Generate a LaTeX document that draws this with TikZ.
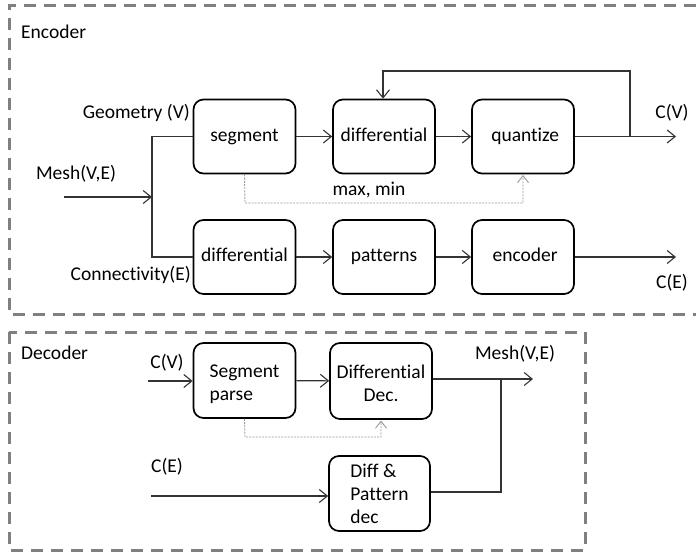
\documentclass[tikz,border=0pt]{standalone}
\usepackage{fontspec}
\setmainfont{Carlito}[Ligatures=CommonOff]
\usetikzlibrary{arrows.meta}
\newcommand{\lowstack}[2]{\raisebox{-4pt}[\height][\depth]{\begin{tabular}{@{}#1@{}}#2\end{tabular}}}
\begin{document}
\begin{tikzpicture}[x=1pt,y=-1pt,
  font=\fontsize{19.5}{23}\selectfont,
  block/.style={draw=black,line width=1.7pt,rounded corners=10pt,fill=white,
    minimum width=102pt,minimum height=74pt,inner sep=2pt,align=center},
  oneline/.style={text height=13pt,text depth=4pt},
  wire/.style={draw=black!80,line width=1.1pt},
  arr/.style={wire,-{Straight Barb[length=8pt,width=13pt,line width=1.1pt]}},
  hint/.style={draw=black!40,line width=0.9pt,dash pattern=on 2pt off 1.2pt},
  hintarr/.style={hint,-{Straight Barb[length=7pt,width=11pt,line width=0.9pt,sep=1pt]}},
  frame/.style={draw=black!50,line width=3pt,dash pattern=on 12pt off 8pt},
  lbl/.style={inner sep=0pt}]
\useasboundingbox (0,0) rectangle (696,552);

% dashed frames
\draw[frame] (696,5) -- (9,5) -- (9,314) -- (696,314);
\draw[frame] (9,332) rectangle (585,550);
\node[lbl,anchor=west] (enclbl) at (21,32) {Encoder};
\node[lbl,anchor=west] (declbl) at (21,353) {Decoder};

% encoder blocks
\node[block,oneline] (segment)  at (244.5,136.5) {segment};
\node[block,oneline] (diffa)    at (384,136.5)   {differential};
\node[block,oneline] (quantize) at (523,136.5)   {\ quantize};
\node[block,oneline] (diffb)    at (244.5,257)   {differential};
\node[block,oneline] (patterns) at (384,257)     {patterns};
\node[block,oneline] (encoder)  at (523,257)     {\ encoder};

% encoder wiring
\coordinate (meshin) at (64,197);
\coordinate (split) at (152,197);
\draw[arr] (meshin) -- (split);
\draw[wire] (segment.west) -| (split) |- (diffb.west);
\draw[arr] (segment) -- (diffa);
\draw[arr] (diffa) -- (quantize);
\draw[arr] (diffb) -- (patterns);
\draw[arr] (patterns) -- (encoder);
\coordinate (cvout) at (676,136.5);
\coordinate (ceout) at (676,257);
\coordinate (fb) at (630,136.5);
\coordinate (fbtop) at (383,71);
\draw[arr] (quantize) -- (cvout);
\draw[arr] (encoder) -- (ceout);
\draw[arr] (fb) |- (fbtop) -- (fbtop |- diffa.north);
\coordinate (mmdown) at (245,203);
\draw[hintarr] (segment.south) -- (mmdown) -| (523,174);

\node[lbl,anchor=east] (geo) at (190,113) {Geometry (V)};
\node[lbl,anchor=east] (conn) at (191,275) {Connectivity(E)};
\node[lbl] (meshlbl) at (76,174) {Mesh(V,E)};
\node[lbl] (cvlbl) at (672,113) {C(V)};
\node[lbl] (celbl) at (672,283) {C(E)};
\node[lbl] (mm) at (369,190) {max, min};

% decoder blocks
\node[block,minimum height=75pt] (segparse) at (244.5,380.5) {\lowstack{l}{Segment\\parse}};
\node[block,minimum height=76pt] (diffdec) at (381,381) {\lowstack{c}{Differential\\Dec.}};
\node[block,align=left,minimum width=101pt,minimum height=75pt] (dpdec) at (379.5,493.5) {Diff \&\\Pattern\\dec};

% decoder wiring
\coordinate (cvin) at (148,381);
\coordinate (cein) at (151,496);
\draw[arr] (cvin) -- (segparse.west |- cvin);
\draw[arr] (segparse) -- (diffdec);
\draw[arr] (cein) -- (dpdec.west |- cein);
\coordinate (meshout) at (533,379);
\coordinate (join) at (501,379);
\draw[arr] (diffdec.east |- meshout) -- (meshout);
\draw[wire] (dpdec.east |- 0,492) -| (join);
\coordinate (ppdown) at (245,437);
\draw[hintarr] (segparse.south) -- (ppdown) -| (381,419.5);

\node[lbl] (dcv) at (167,363) {C(V)};
\node[lbl] (dce) at (167,467) {C(E)};
\node[lbl] (dmesh) at (515,354) {Mesh(V,E)};
\end{tikzpicture}
\end{document}
